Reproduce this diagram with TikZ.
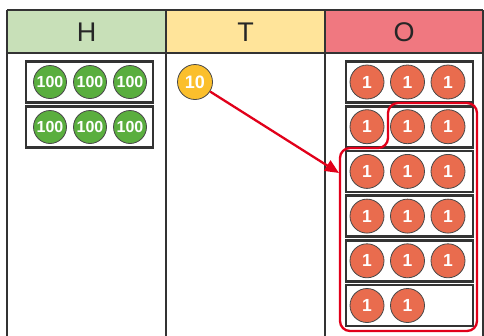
\documentclass[tikz,border=0pt]{standalone}
\usepackage{fontspec}
\setmainfont{Liberation Sans}
\usetikzlibrary{arrows.meta}
\definecolor{headH}{HTML}{C8E0B8}
\definecolor{headT}{HTML}{FFE49A}
\definecolor{headO}{HTML}{F07880}
\definecolor{coingreen}{HTML}{5AAE3E}
\definecolor{coingold}{HTML}{FBBF2C}
\definecolor{coinred}{HTML}{E96C4E}
\definecolor{regroupred}{HTML}{E1001A}
\definecolor{rule}{HTML}{333333}
\begin{document}
\begin{tikzpicture}[x=1pt,y=-1pt,
  grid/.style={draw=rule, line width=1.5pt},
  head/.style={font=\fontsize{27}{27}\selectfont, text=black!85},
  tray/.style={rectangle, draw=rule, line width=2.6pt, minimum width=127pt, minimum height=41pt, inner sep=0pt},
  coin/.style={circle, draw=rule!90, line width=0.8pt, inner sep=0pt, text=white, font=\bfseries\fontsize{17.5}{17.5}\selectfont},
  coinH/.style={coin, fill=coingreen, minimum size=33pt, font=\bfseries\fontsize{16}{16}\selectfont},
  coinT/.style={coin, fill=coingold, minimum size=35pt, font=\bfseries\fontsize{18}{18}\selectfont},
  coinO/.style={coin, fill=coinred, minimum size=34pt},
  regroup/.style={draw=regroupred, line width=2.3pt}]
\useasboundingbox (0,0) rectangle (484,335);

\fill [headH] (7,10) rectangle (166,53);
\fill [headT] (166,10) rectangle (325,53);
\fill [headO] (325,10) rectangle (483,53);
\draw [grid] (7,10) -- (483,10);
\draw [grid] (7,53) -- (483,53);
\draw [grid] (7,10) -- (7,336);
\draw [grid] (166,10) -- (166,336);
\draw [grid] (325,10) -- (325,336);
\draw [grid] (483,10) -- (483,336);

\node [head] (hH) at (86.5,32) {H};
\node [head] (hT) at (245.5,32) {T};
\node [head] (hO) at (404,32) {O};

\node [tray] (h1) at (89.5,82) {};
\node [tray] (h2) at (89.5,127) {};
\node [coinH] (h11) at (50,82) {100};
\node [coinH] (h12) at (90,82) {100};
\node [coinH] (h13) at (130,82) {100};
\node [coinH] (h21) at (50,127) {100};
\node [coinH] (h22) at (90,127) {100};
\node [coinH] (h23) at (130,127) {100};

\node [coinT] (ten) at (195,82) {10};

\node [tray] (o1) at (409.5,82) {};
\node [tray] (o2) at (409.5,126.7) {};
\node [tray] (o3) at (409.5,171.4) {};
\node [tray] (o4) at (409.5,216.1) {};
\node [tray] (o5) at (409.5,260.8) {};
\node [tray] (o6) at (409.5,305.5) {};
\node [coinO] (o11) at (367,82) {1};
\node [coinO] (o12) at (407.5,82) {1};
\node [coinO] (o13) at (448,82) {1};
\node [coinO] (o21) at (367,126.7) {1};
\node [coinO] (o22) at (407.5,126.7) {1};
\node [coinO] (o23) at (448,126.7) {1};
\node [coinO] (o31) at (367,171.4) {1};
\node [coinO] (o32) at (407.5,171.4) {1};
\node [coinO] (o33) at (448,171.4) {1};
\node [coinO] (o41) at (367,216.1) {1};
\node [coinO] (o42) at (407.5,216.1) {1};
\node [coinO] (o43) at (448,216.1) {1};
\node [coinO] (o51) at (367,260.8) {1};
\node [coinO] (o52) at (407.5,260.8) {1};
\node [coinO] (o53) at (448,260.8) {1};
\node [coinO] (o61) at (367,305.5) {1};
\node [coinO] (o62) at (407.5,305.5) {1};

\draw [regroup, rounded corners=10pt] (388,103) -- (477,103) -- (477,331) -- (340,331) -- (340,148) -- (388,148) -- cycle;

\coordinate (tip) at (339,173);
\draw [regroup, -{Triangle[length=14pt, width=12pt]}] (ten) -- (tip);
\end{tikzpicture}
\end{document}
